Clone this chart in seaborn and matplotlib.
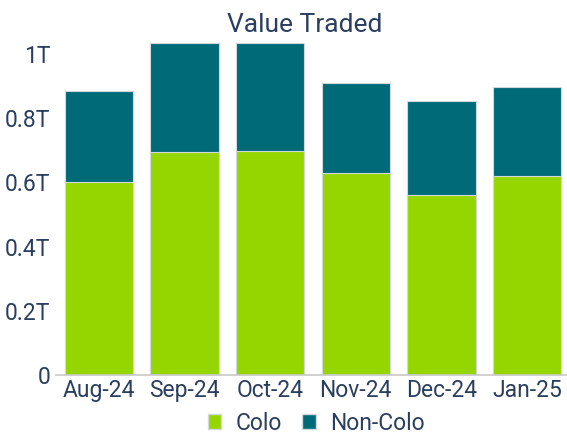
import matplotlib
matplotlib.use("Agg")
import matplotlib.pyplot as plt
import seaborn as sns
import pandas as pd
from matplotlib.patches import Patch

months = ["Aug-24", "Sep-24", "Oct-24", "Nov-24", "Dec-24", "Jan-25"]
colo = [0.601e12, 0.696e12, 0.699e12, 0.628e12, 0.561e12, 0.620e12]
non_colo = [0.284e12, 0.339e12, 0.336e12, 0.283e12, 0.293e12, 0.276e12]
yticks = [0, 0.2e12, 0.4e12, 0.6e12, 0.8e12, 1.0e12]
ytick_labels = ["0", "0.2T", "0.4T", "0.6T", "0.8T", "1T"]

GREEN = "#96d600"
TEAL = "#006a78"
TEXT = "#2a3f5f"

sns.set_theme(style="white")
plt.rcParams["font.family"] = ["Roboto", "DejaVu Sans"]

df = pd.DataFrame({"month": months, "colo": colo, "non_colo": non_colo})
df["total"] = df["colo"] + df["non_colo"]

fig = plt.figure(figsize=(5.67, 4.37), dpi=100)
ax = fig.add_axes([56 / 567, 62 / 437, (570 - 56) / 567, (375 - 38) / 437])

sns.barplot(data=df, x="month", y="total", color=TEAL, saturation=1, width=0.8,
            edgecolor="#d0d8dc", linewidth=0.8, ax=ax)
sns.barplot(data=df, x="month", y="colo", color=GREEN, saturation=1, width=0.8,
            edgecolor="#d0d8dc", linewidth=0.8, ax=ax)

ax.set_xlim(-0.5, 5.5)
ax.set_ylim(0, 1.05e12)
ax.set_yticks(yticks)
ax.set_yticklabels(ytick_labels)
ax.set_xlabel("")
ax.set_ylabel("")
for s in ["top", "right", "left"]:
    ax.spines[s].set_visible(False)
ax.spines["bottom"].set_color("#c8c8c8")
ax.spines["bottom"].set_linewidth(1.2)
ax.tick_params(axis="both", length=0, labelsize=16.5, colors=TEXT)
ax.tick_params(axis="y", pad=4)
ax.tick_params(axis="x", pad=3)

fig.text(305 / 567, 1 - 25 / 437, "Value Traded", ha="center", va="center",
         fontsize=19, color=TEXT)

handles = [Patch(facecolor=GREEN, edgecolor="#d0d8dc", label="Colo"),
           Patch(facecolor=TEAL, edgecolor="#d0d8dc", label="Non-Colo")]
leg = fig.legend(handles=handles, loc="center", bbox_to_anchor=(316 / 567, 1 - 423 / 437),
                 ncol=2, frameon=False, fontsize=16.5, handlelength=0.6, handleheight=0.6,
                 handletextpad=0.6, columnspacing=0.9)
for t in leg.get_texts():
    t.set_color(TEXT)

fig.savefig("out.png", dpi=100)
